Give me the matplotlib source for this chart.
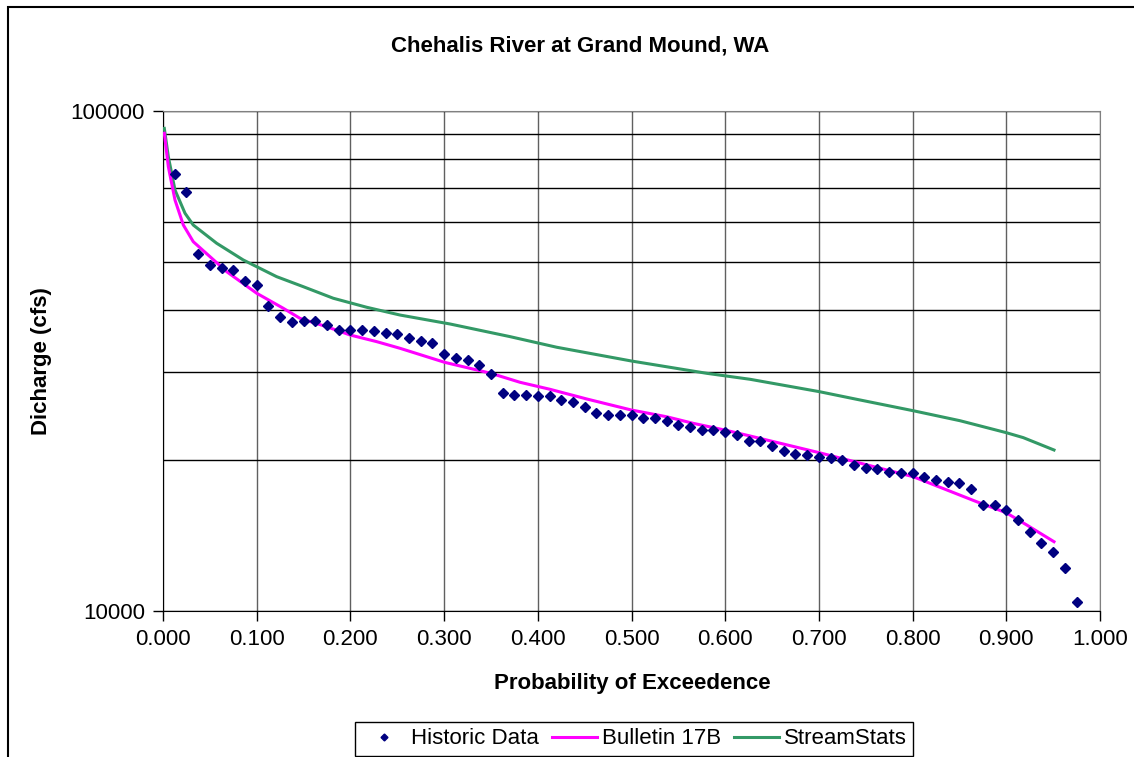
import matplotlib
matplotlib.use("Agg")
import matplotlib.pyplot as plt
from matplotlib.patches import Rectangle
from matplotlib.ticker import FixedLocator, NullFormatter, FuncFormatter

plt.rcParams['font.family'] = ['Liberation Sans', 'DejaVu Sans']

# historic annual peaks, plotted at their exceedance probability
hist_p = [0.0125, 0.025, 0.0375, 0.05, 0.0625, 0.075, 0.0875, 0.1, 0.1125, 0.125,
          0.1375, 0.15, 0.1625, 0.175, 0.1875, 0.2, 0.2125, 0.225, 0.2375, 0.25,
          0.2625, 0.275, 0.2875, 0.3, 0.3125, 0.325, 0.3375, 0.35, 0.3625, 0.375,
          0.3875, 0.4, 0.4125, 0.425, 0.4375, 0.45, 0.4625, 0.475, 0.4875, 0.5,
          0.5125, 0.525, 0.5375, 0.55, 0.5625, 0.575, 0.5875, 0.6, 0.6125, 0.625,
          0.6375, 0.65, 0.6625, 0.675, 0.6875, 0.7, 0.7125, 0.725, 0.7375, 0.75,
          0.7625, 0.775, 0.7875, 0.8, 0.8125, 0.825, 0.8375, 0.85, 0.8625, 0.875,
          0.8875, 0.9, 0.9125, 0.925, 0.9375, 0.95, 0.9625, 0.975]
hist_q = [74800, 68800, 51800, 49100, 48500, 48100, 45800, 44900, 40700, 38700,
          37900, 38000, 38000, 37400, 36500, 36500, 36500, 36300, 36000, 35800,
          35100, 34700, 34400, 32700, 32000, 31800, 31000, 29800, 27300, 27100,
          27100, 26900, 26900, 26400, 26200, 25600, 24900, 24700, 24700, 24700,
          24300, 24300, 24000, 23500, 23300, 23000, 23000, 22800, 22500, 21900,
          21900, 21400, 20900, 20600, 20500, 20300, 20200, 20000, 19600, 19300,
          19200, 19000, 18900, 18900, 18500, 18300, 18100, 18000, 17500, 16300,
          16300, 15900, 15200, 14400, 13700, 13100, 12200, 10400]

# Bulletin 17B fit
b17_p = [0.0014, 0.0057, 0.0128, 0.0217, 0.0323, 0.0502, 0.068, 0.1, 0.1284, 0.1462,
         0.1747, 0.1996, 0.2281, 0.2529, 0.3006, 0.35, 0.381, 0.413, 0.4522, 0.5,
         0.5376, 0.566, 0.6009, 0.6265, 0.7004, 0.8007, 0.8684, 0.8997, 0.9218, 0.9509]
b17_q = [90250, 77360, 66370, 59160, 54780, 51120, 47710, 43200, 40310, 38490,
         37030, 35650, 34570, 33530, 31430, 29880, 28670, 27760, 26550, 25230,
         24460, 23730, 22980, 22390, 20730, 18560, 16540, 15730, 14860, 13760]

# StreamStats regression
ss_p = [0.0014, 0.0057, 0.0128, 0.0235, 0.0323, 0.0573, 0.0857, 0.1213, 0.1497, 0.1817,
        0.2174, 0.2529, 0.3063, 0.3703, 0.4202, 0.5, 0.5803, 0.6265, 0.7004, 0.7403,
        0.8007, 0.8506, 0.8997, 0.9181, 0.9509]
ss_q = [92300, 81000, 69500, 62440, 59150, 54380, 50350, 46630, 44530, 42220,
        40500, 39080, 37500, 35380, 33690, 31620, 29880, 29070, 27460, 26510,
        25150, 24020, 22740, 22220, 20990]

x_ticks = [0.0, 0.1, 0.2, 0.3, 0.4, 0.5, 0.6, 0.7, 0.8, 0.9, 1.0]
y_major = [10000, 100000]
y_minor = [20000, 30000, 40000, 50000, 60000, 70000, 80000, 90000]

W, H = 1134, 757
fig = plt.figure(figsize=(W / 100, H / 100), dpi=100)
ax = fig.add_axes([163 / W, 1 - 611 / H, (1100 - 163) / W, (611 - 111) / H])

ax.plot(ss_p, ss_q, color='#339966', lw=2.2, label='StreamStats', zorder=3)
ax.plot(b17_p, b17_q, color='#ff00ff', lw=2.2, label='Bulletin 17B', zorder=4)
ax.plot(hist_p, hist_q, ls='none', marker='D', ms=5, color='#000080',
        label='Historic Data', zorder=5)

ax.set_yscale('log')
ax.set_xlim(0, 1)
ax.set_ylim(10000, 100000)
ax.xaxis.set_major_locator(FixedLocator(x_ticks))
ax.xaxis.set_major_formatter(FuncFormatter(lambda v, pos: '%.3f' % v))
ax.yaxis.set_major_locator(FixedLocator(y_major))
ax.yaxis.set_major_formatter(FuncFormatter(lambda v, pos: '%d' % v))
ax.yaxis.set_minor_locator(FixedLocator(y_minor))
ax.yaxis.set_minor_formatter(NullFormatter())
ax.xaxis.set_minor_locator(FixedLocator([]))
ax.tick_params(which='major', direction='out', length=7, width=1, labelsize=16, pad=6)
ax.tick_params(which='minor', length=0)

ax.grid(True, axis='x', which='major', color='#606060', lw=1)
ax.grid(True, axis='y', which='both', color='black', lw=1)
ax.set_axisbelow(True)

for s in ['top', 'right']:
    ax.spines[s].set_color('#808080')
for s in ['left', 'bottom']:
    ax.spines[s].set_color('black')

fig.text(580 / W, 1 - 46 / H, 'Chehalis River at Grand Mound, WA',
         ha='center', va='center', fontsize=16, fontweight='bold')
fig.text(632 / W, 1 - 683 / H, 'Probability of Exceedence',
         ha='center', va='center', fontsize=16, fontweight='bold')
fig.text(42 / W, 1 - 361 / H, 'Dicharge (cfs)', rotation=90,
         ha='center', va='center', fontsize=16, fontweight='bold')

handles, labels = ax.get_legend_handles_labels()
order = [2, 1, 0]
leg = fig.legend([handles[i] for i in order], [labels[i] for i in order],
                 loc='center', bbox_to_anchor=(634 / W, 1 - 739 / H),
                 ncol=3, fontsize=16, frameon=True, fancybox=False,
                 edgecolor='black', framealpha=1, handlelength=2.0,
                 handletextpad=0.23, columnspacing=0.6, borderpad=0.3,
                 borderaxespad=0, markerscale=0.7)
leg.get_frame().set_linewidth(1)

fig.patches.append(Rectangle((8 / W, -0.05), 1.2, 1 - 7 / H + 0.05, fill=False,
                             ec='black', lw=1.5, transform=fig.transFigure, figure=fig))

fig.savefig('out.png', dpi=100)
